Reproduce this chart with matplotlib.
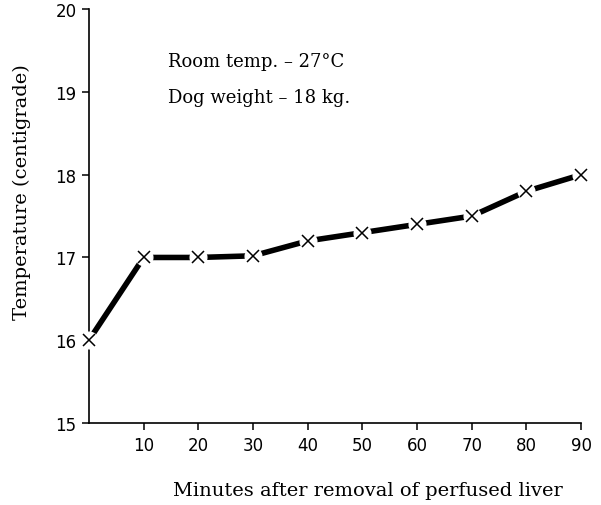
import matplotlib
matplotlib.use("Agg")
import matplotlib.pyplot as plt

minutes = [0, 10, 20, 30, 40, 50, 60, 70, 80, 90]
temps = [16.0, 17.0, 17.0, 17.02, 17.2, 17.3, 17.4, 17.5, 17.8, 18.0]
xticks = [10, 20, 30, 40, 50, 60, 70, 80, 90]
yticks = [15, 16, 17, 18, 19, 20]
notes = ["Room temp. \u2013 27\u00b0C", "Dog weight \u2013 18 kg."]

plt.rcParams['font.family'] = ['DejaVu Sans']

fig = plt.figure(figsize=(6.01, 5.06), dpi=100)
ax = fig.add_axes([0.148, 0.162, 0.819, 0.818])

ax.plot(minutes, temps, color='k', lw=4, solid_capstyle='round', zorder=2, clip_on=False)
ax.plot(minutes, temps, 'o', ms=12, color='white', mec='white', zorder=3, clip_on=False)
ax.plot(minutes, temps, 'x', ms=8, color='k', mew=1.1, zorder=4, clip_on=False)

ax.set_xlim(0, 90)
ax.set_ylim(15, 20)
ax.set_xticks(xticks)
ax.set_yticks(yticks)
ax.spines['top'].set_visible(False)
ax.spines['right'].set_visible(False)
ax.spines['left'].set_linewidth(1.2)
ax.spines['bottom'].set_linewidth(1.2)
ax.spines['left'].set_zorder(1)
ax.spines['bottom'].set_zorder(1)
ax.tick_params(axis='both', labelsize=12, width=1.1, length=5, direction='out', pad=4)

ax.set_xlabel('Minutes after removal of perfused liver', fontsize=14,
              family='DejaVu Serif')
ax.xaxis.set_label_coords(0.567, -0.14)
ax.set_ylabel('Temperature (centigrade)', fontsize=14, family='DejaVu Serif')
ax.yaxis.set_label_coords(-0.118, 0.56)

for i, note in enumerate(notes):
    ax.text(0.16, 0.874 - i * 0.087, note, transform=ax.transAxes, fontsize=13,
            family='DejaVu Serif', va='center', ha='left')

fig.savefig('out.png', dpi=100)
